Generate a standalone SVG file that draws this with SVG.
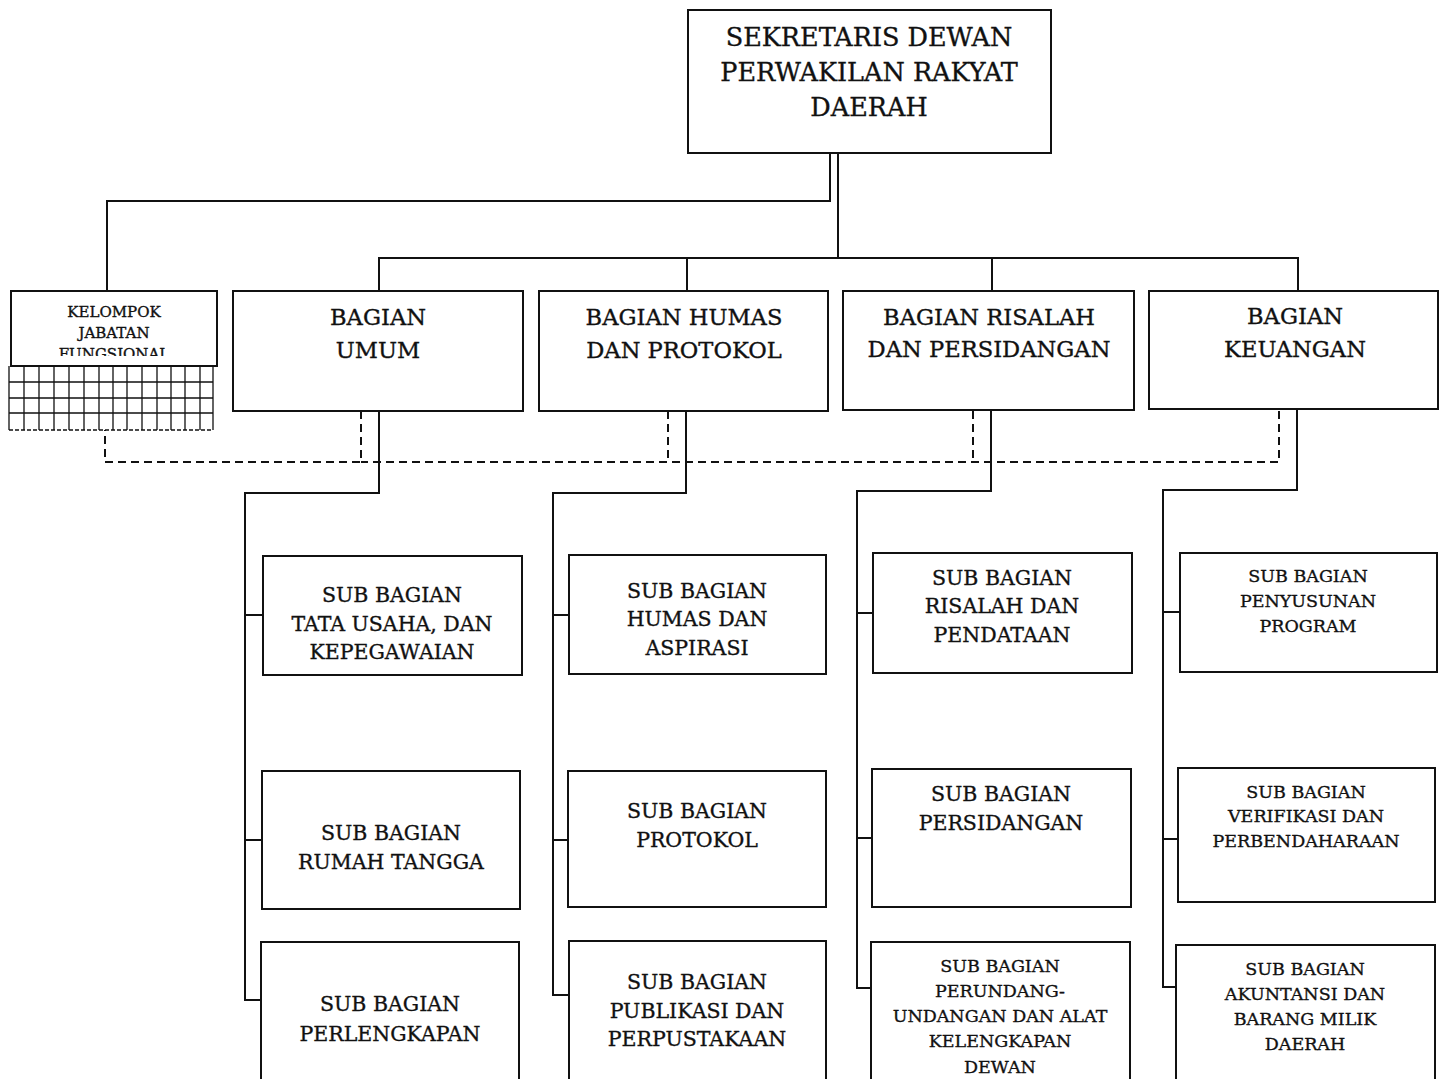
<svg xmlns="http://www.w3.org/2000/svg" width="1446" height="1079" viewBox="0 0 1446 1079">
<style>
.box{fill:#fff;stroke:#111;stroke-width:2}
.ln{fill:none;stroke:#111;stroke-width:2}
.dash{fill:none;stroke:#111;stroke-width:2;stroke-dasharray:8 5}
.grid{fill:none;stroke:#111;stroke-width:1.3}
text{font-family:"DejaVu Serif","Liberation Serif",serif;fill:#111;stroke:#111;stroke-width:0.35;text-anchor:middle}
.t24{font-size:25.5px}
.t21{font-size:22.6px}
.t19{font-size:20.5px}
.t17{font-size:17.5px}
.t14{font-size:15px}
</style>
<defs>
<clipPath id="kclip"><rect x="11" y="291" width="206" height="65"/></clipPath>
</defs>
<rect width="1446" height="1079" fill="#fff"/>
<g id="connectors">
<path class="ln" d="M830 153V201H107V291"/>
<path class="ln" d="M838 153V258"/>
<path class="ln" d="M379 291V258H1298V291M687 258V291M992 258V291"/>
<path class="dash" d="M361 411V462H105V430M668 411V462M973 411V462M1279 411V462H361"/>
<path class="ln" d="M379 411V493H245V1000H261M245 615H263M245 840H262"/>
<path class="ln" d="M686 411V493H553V995H569M553 615H569M553 840H568"/>
<path class="ln" d="M991 411V491H857V988H871M857 613H873M857 838H872"/>
<path class="ln" d="M1297 409V490H1163V987H1176M1163 612H1180M1163 839H1178"/>
</g>
<g id="sekretaris">
<rect class="box" x="688" y="10" width="363" height="143"/>
<text class="t24" x="869" y="46">SEKRETARIS DEWAN</text>
<text class="t24" x="869" y="81">PERWAKILAN RAKYAT</text>
<text class="t24" x="869" y="116">DAERAH</text>
</g>
<g id="kelompok">
<rect class="box" x="11" y="291" width="206" height="75"/>
<g clip-path="url(#kclip)">
<text class="t14" x="114" y="317">KELOMPOK</text>
<text class="t14" x="114" y="338">JABATAN</text>
<text class="t14" x="114" y="359">FUNGSIONAL</text>
</g>
<g class="grid">
<path d="M9 366V430M24 366V430M39 366V430M54 366V430M69 366V430M84 366V430M99 366V430M113 366V430M127 366V430M142 366V430M157 366V430M171 366V430M185 366V430M200 366V430M213 366V430"/>
<path d="M9 382H213M9 398H213M9 413H213"/>
<path d="M9 430H213" stroke-dasharray="4 2"/>
</g>
</g>
<g id="bagian-umum">
<rect class="box" x="233" y="291" width="290" height="120"/>
<text class="t21" x="378" y="325">BAGIAN</text>
<text class="t21" x="378" y="358">UMUM</text>
</g>
<g id="bagian-humas">
<rect class="box" x="539" y="291" width="289" height="120"/>
<text class="t21" x="684" y="325">BAGIAN HUMAS</text>
<text class="t21" x="684" y="358">DAN PROTOKOL</text>
</g>
<g id="bagian-risalah">
<rect class="box" x="843" y="291" width="291" height="119"/>
<text class="t21" x="989" y="325">BAGIAN RISALAH</text>
<text class="t21" x="989" y="357">DAN PERSIDANGAN</text>
</g>
<g id="bagian-keuangan">
<rect class="box" x="1149" y="291" width="289" height="118"/>
<text class="t21" x="1295" y="324">BAGIAN</text>
<text class="t21" x="1295" y="357">KEUANGAN</text>
</g>
<g id="sb-tata-usaha">
<rect class="box" x="263" y="556" width="259" height="119"/>
<text class="t19" x="392" y="602">SUB BAGIAN</text>
<text class="t19" x="392" y="631">TATA USAHA, DAN</text>
<text class="t19" x="392" y="659">KEPEGAWAIAN</text>
</g>
<g id="sb-rumah-tangga">
<rect class="box" x="262" y="771" width="258" height="138"/>
<text class="t19" x="391" y="840">SUB BAGIAN</text>
<text class="t19" x="391" y="869">RUMAH TANGGA</text>
</g>
<g id="sb-perlengkapan">
<rect class="box" x="261" y="942" width="258" height="140"/>
<text class="t19" x="390" y="1011">SUB BAGIAN</text>
<text class="t19" x="390" y="1041">PERLENGKAPAN</text>
</g>
<g id="sb-humas">
<rect class="box" x="569" y="555" width="257" height="119"/>
<text class="t19" x="697" y="598">SUB BAGIAN</text>
<text class="t19" x="697" y="626">HUMAS DAN</text>
<text class="t19" x="697" y="655">ASPIRASI</text>
</g>
<g id="sb-protokol">
<rect class="box" x="568" y="771" width="258" height="136"/>
<text class="t19" x="697" y="818">SUB BAGIAN</text>
<text class="t19" x="697" y="847">PROTOKOL</text>
</g>
<g id="sb-publikasi">
<rect class="box" x="569" y="941" width="257" height="141"/>
<text class="t19" x="697" y="989">SUB BAGIAN</text>
<text class="t19" x="697" y="1018">PUBLIKASI DAN</text>
<text class="t19" x="697" y="1046">PERPUSTAKAAN</text>
</g>
<g id="sb-risalah">
<rect class="box" x="873" y="553" width="259" height="120"/>
<text class="t19" x="1002" y="585">SUB BAGIAN</text>
<text class="t19" x="1002" y="613">RISALAH DAN</text>
<text class="t19" x="1002" y="642">PENDATAAN</text>
</g>
<g id="sb-persidangan">
<rect class="box" x="872" y="769" width="259" height="138"/>
<text class="t19" x="1001" y="801">SUB BAGIAN</text>
<text class="t19" x="1001" y="830">PERSIDANGAN</text>
</g>
<g id="sb-perundangan">
<rect class="box" x="871" y="942" width="259" height="140"/>
<text class="t17" x="1000" y="972">SUB BAGIAN</text>
<text class="t17" x="1000" y="997">PERUNDANG-</text>
<text class="t17" x="1000" y="1022">UNDANGAN DAN ALAT</text>
<text class="t17" x="1000" y="1047">KELENGKAPAN</text>
<text class="t17" x="1000" y="1073">DEWAN</text>
</g>
<g id="sb-penyusunan">
<rect class="box" x="1180" y="553" width="257" height="119"/>
<text class="t17" x="1308" y="582">SUB BAGIAN</text>
<text class="t17" x="1308" y="607">PENYUSUNAN</text>
<text class="t17" x="1308" y="632">PROGRAM</text>
</g>
<g id="sb-verifikasi">
<rect class="box" x="1178" y="768" width="257" height="134"/>
<text class="t17" x="1306" y="798">SUB BAGIAN</text>
<text class="t17" x="1306" y="822">VERIFIKASI DAN</text>
<text class="t17" x="1306" y="847">PERBENDAHARAAN</text>
</g>
<g id="sb-akuntansi">
<rect class="box" x="1176" y="945" width="259" height="137"/>
<text class="t17" x="1305" y="975">SUB BAGIAN</text>
<text class="t17" x="1305" y="1000">AKUNTANSI DAN</text>
<text class="t17" x="1305" y="1025">BARANG MILIK</text>
<text class="t17" x="1305" y="1050">DAERAH</text>
</g>
</svg>
